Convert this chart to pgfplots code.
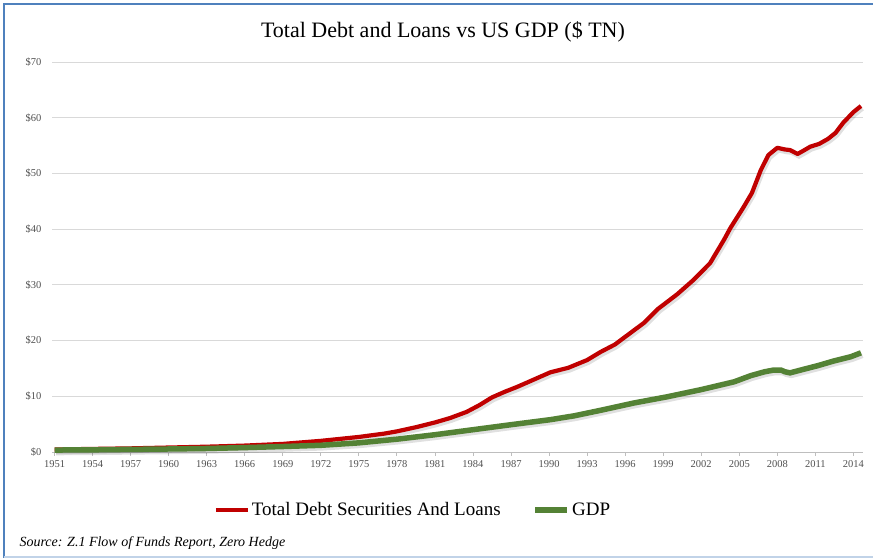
\documentclass[border=0pt]{standalone}
\usepackage{fontspec}
\setmainfont{Liberation Serif}
\usepackage{pgfplots}
\usepackage{pgfplotstable}
\pgfplotsset{compat=1.18}
\definecolor{debtred}{HTML}{C00000}
\definecolor{gdpgreen}{HTML}{548235}
\definecolor{gridgray}{HTML}{D9D9D9}
\definecolor{ticktext}{HTML}{505050}
\definecolor{frameblue}{HTML}{4F81BD}

\pgfplotstableread{
year debt
1951 0.45
1954 0.55
1957 0.65
1960 0.80
1963 0.95
1966 1.15
1969 1.45
1972 2.00
1975 2.70
1977 3.30
1978 3.70
1979.6 4.50
1981 5.30
1982.2 6.10
1983.5 7.20
1984.5 8.40
1985.5 9.80
1986.5 10.80
1987.5 11.70
1989 13.20
1990.1 14.30
1991.5 15.10
1993 16.50
1994.1 18.00
1995.2 19.30
1996.2 21.00
1997.5 23.20
1998.6 25.70
2000.1 28.30
2001.4 30.90
2002.7 33.90
2003.8 38.10
2004.3 40.20
2005.3 43.80
2006.0 46.50
2006.7 50.60
2007.3 53.30
2008.0 54.60
2008.6 54.30
2009.0 54.20
2009.6 53.50
2010.0 54.00
2010.6 54.80
2011.3 55.30
2012.0 56.20
2012.6 57.30
2013.2 59.10
2014.0 61.00
2014.6 62.10
}\debttable

\pgfplotstableread{
year gdp
1951 0.35
1954 0.39
1957 0.47
1960 0.54
1963 0.63
1966 0.79
1969 0.98
1972 1.20
1975 1.64
1978 2.30
1981 3.10
1984 4.00
1987 4.90
1990.1 5.80
1992 6.50
1994.1 7.50
1996.7 8.80
1999.3 9.90
2002.0 11.20
2004.6 12.60
2005.9 13.70
2007.0 14.40
2007.7 14.70
2008.3 14.70
2008.6 14.40
2009.0 14.20
2010.0 14.80
2011.2 15.50
2012.4 16.30
2013.8 17.10
2014.6 17.80
}\gdptable

\begin{document}
\begin{tikzpicture}
\path[use as bounding box] (0,0) rectangle (873pt,559pt);
\draw[frameblue, line width=2pt] (4pt,1pt) -- (4pt,555pt) -- (873pt,555pt);
\draw[frameblue!35, line width=2pt] (4pt,2pt) -- (873pt,2pt);
\node[font=\fontsize{22}{26}\selectfont] at (443pt,527pt) {Total Debt and Loans vs US GDP (\$ TN)};
\node[anchor=west, font=\fontsize{14}{16}\itshape] at (16pt,16pt) {Source: Z.1 Flow of Funds Report, Zero Hedge};
\begin{axis}[
  at={(52pt,107pt)}, anchor=south west,
  scale only axis, width=811pt, height=390pt,
  xmin=1950.8, xmax=2014.76, ymin=0, ymax=70,
  clip=false,
  axis x line*=bottom, axis y line*=left,
  x axis line style={draw=gridgray!70!gray, line width=0.8pt},
  y axis line style={draw=none},
  ymajorgrids, grid style={draw=gridgray, line width=0.8pt},
  xtick={1951,1954,1957,1960,1963,1966,1969,1972,1975,1978,1981,1984,1987,1990,1993,1996,1999,2002,2005,2008,2011,2014},
  xticklabels={1951,1954,1957,1960,1963,1966,1969,1972,1975,1978,1981,1984,1987,1990,1993,1996,1999,2002,2005,2008,2011,2014},
  ytick={0,10,20,30,40,50,60,70},
  yticklabels={\$0,\$10,\$20,\$30,\$40,\$50,\$60,\$70},
  tick align=outside, major tick length=4pt,
  xtick style={draw=gridgray!70!gray, line width=0.8pt},
  ytick style={draw=none},
  xticklabel style={font=\fontsize{10.5}{12}\selectfont, text=ticktext, yshift=-1pt},
  yticklabel style={font=\fontsize{10.5}{12}\selectfont, text=ticktext, xshift=-3pt},
  legend style={at={(0.445,-0.149)}, anchor=center, draw=none, fill=none,
    legend columns=2, font=\fontsize{19}{22}\selectfont,
    /tikz/every even column/.append style={column sep=30pt}},
  legend image code/.code={\draw[#1] (0pt,0pt) -- (32pt,0pt);},
]
\addplot[black, opacity=0.12, line width=4.5pt, forget plot, xshift=1.5pt, yshift=-2.5pt] table[x=year,y=debt] {\debttable};
\addplot[black, opacity=0.12, line width=5.5pt, forget plot, xshift=1.5pt, yshift=-2.5pt] table[x=year,y=gdp] {\gdptable};
\addplot[debtred, line width=4.2pt, line join=round] table[x=year,y=debt] {\debttable};
\addlegendentry{Total Debt Securities And Loans}
\addplot[gdpgreen, line width=5.5pt, line join=round] table[x=year,y=gdp] {\gdptable};
\addlegendentry{GDP}
\end{axis}
\end{tikzpicture}
\end{document}
